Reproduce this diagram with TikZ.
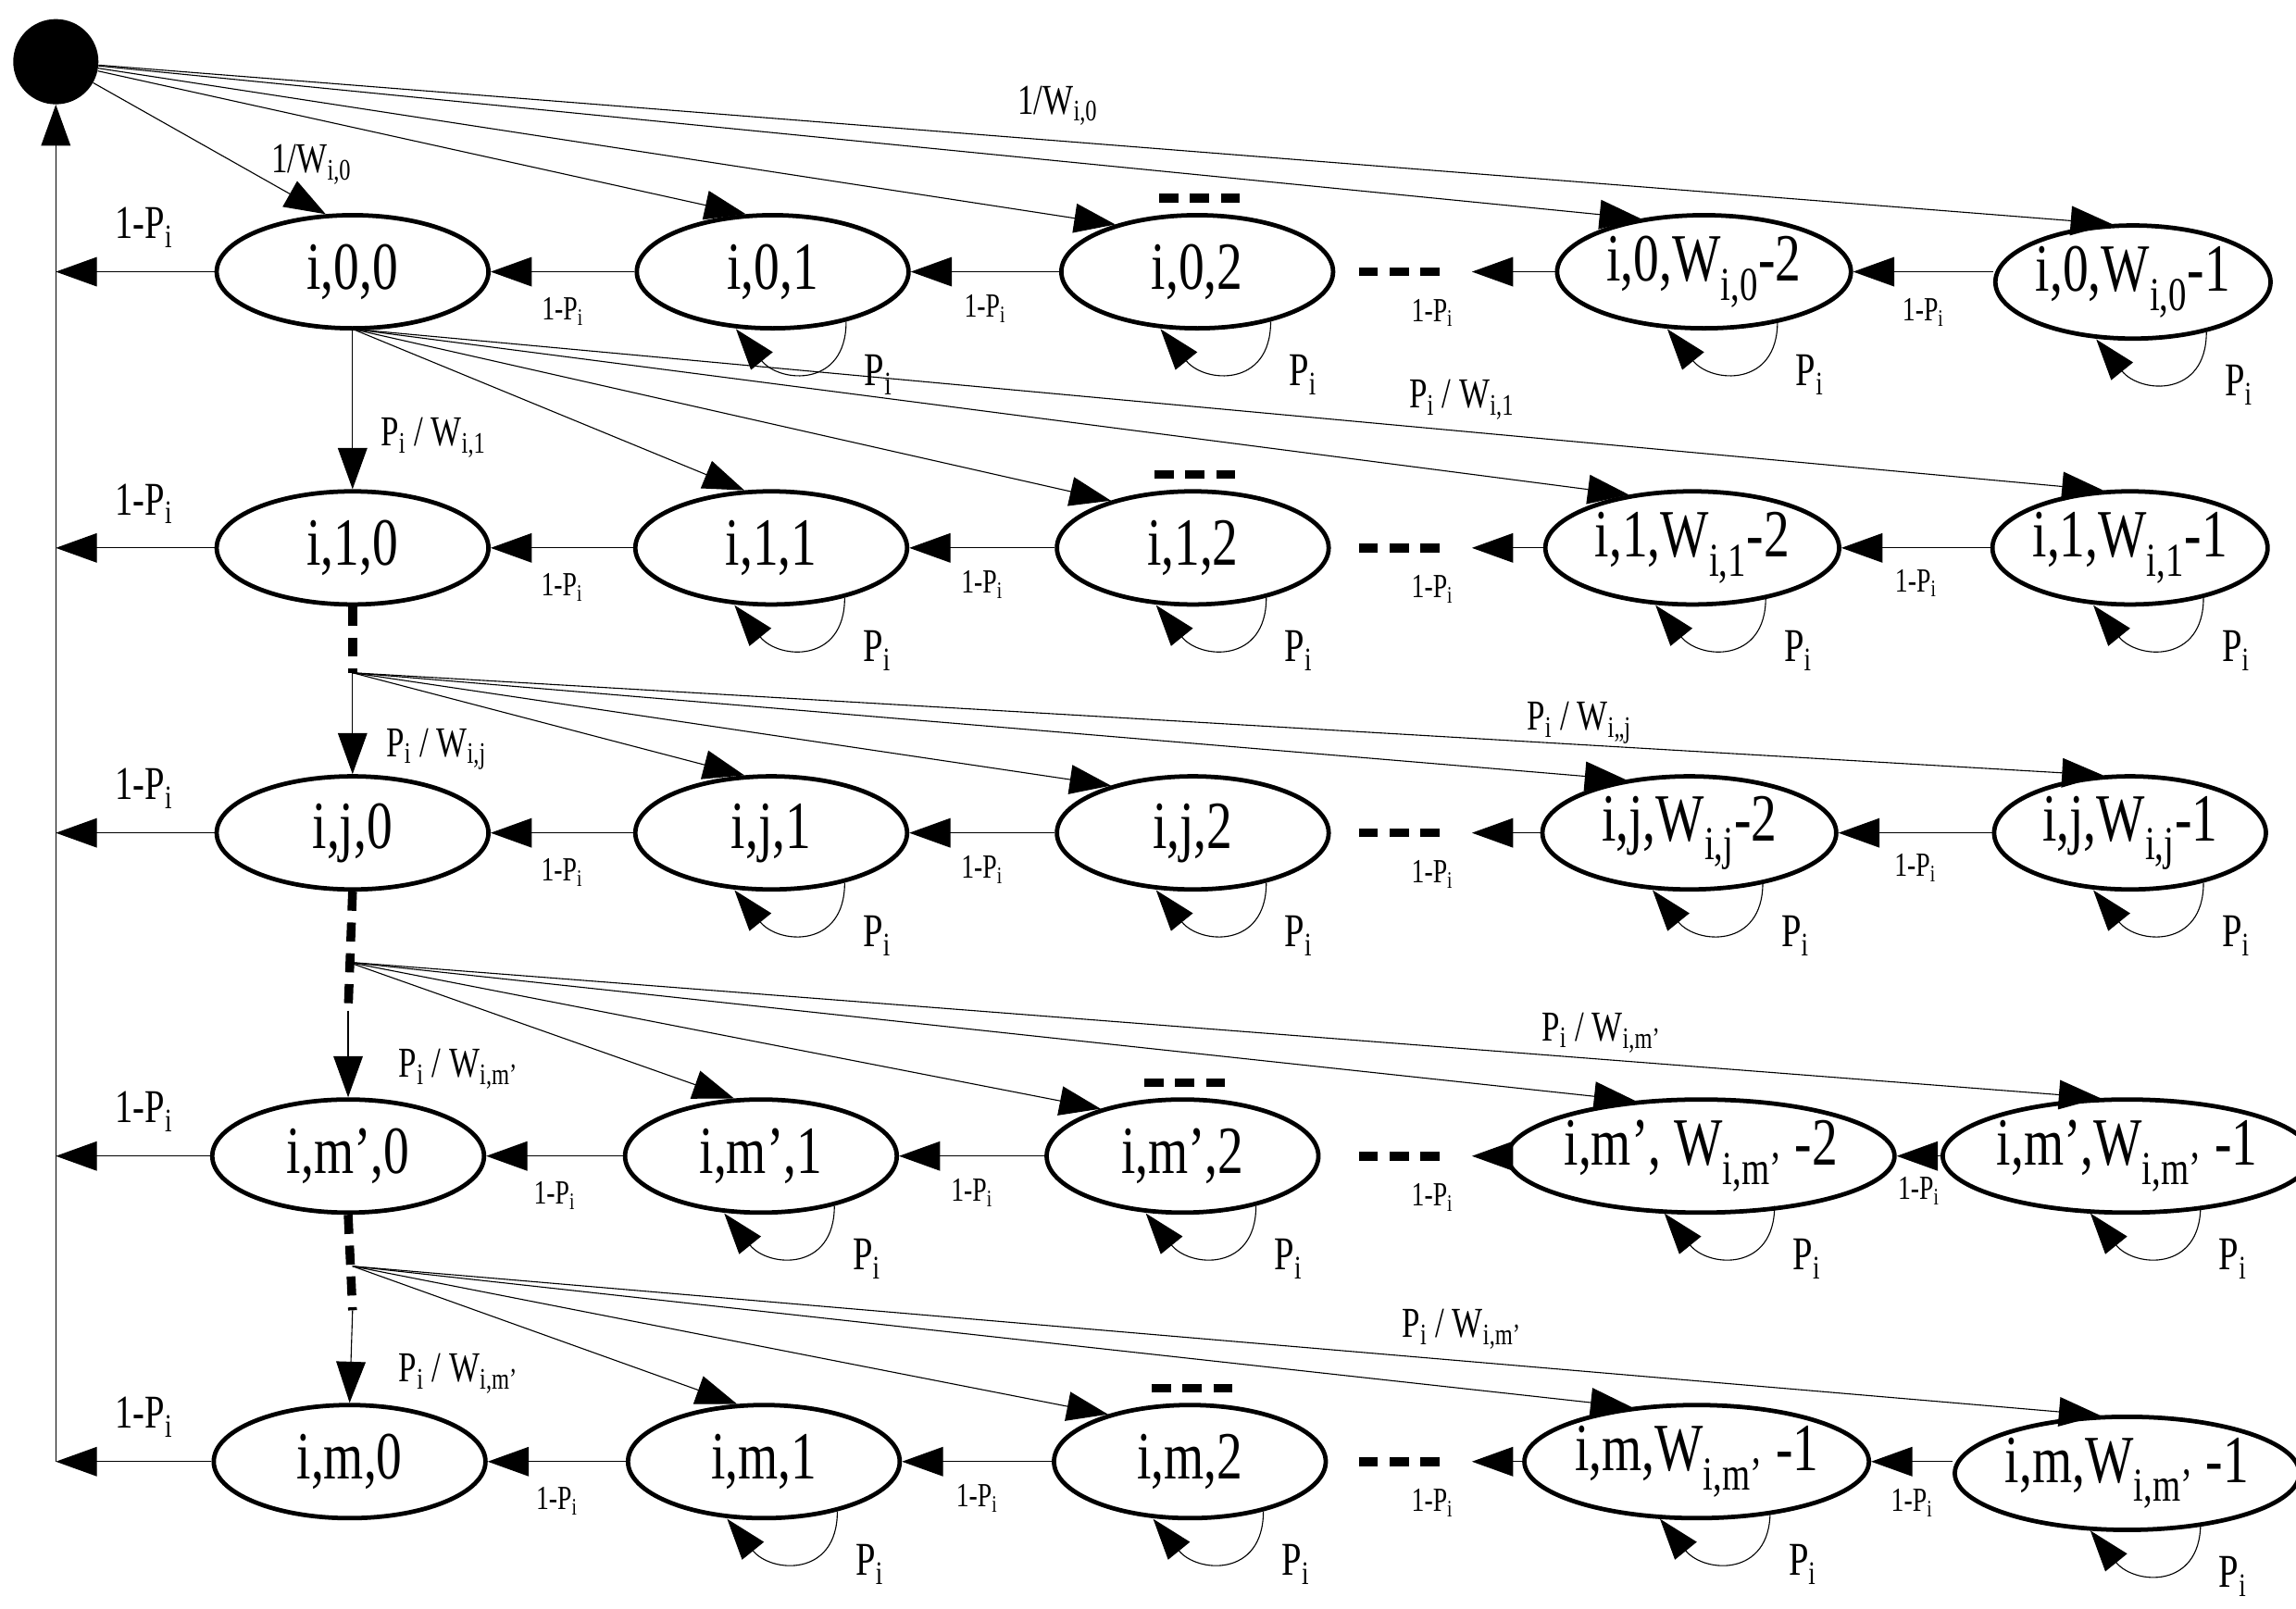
\documentclass[tikz,border=0pt]{standalone}
\usepackage{fontspec}
\setmainfont{Liberation Serif}[FakeStretch=0.76]
\usetikzlibrary{arrows.meta,calc,shapes.geometric}
\begin{document}
\begin{tikzpicture}[x=1pt,y=-1pt,
  st/.style={ellipse,draw,line width=3pt,minimum width=185pt,minimum height=77pt,inner sep=0pt,font=\fontsize{46}{46}\selectfont},
  wd/.style={st,minimum width=200pt},
  arr/.style={line width=0.7pt,-{Triangle[length=28pt,width=20pt]}},
  loop/.style={line width=0.7pt,-{Triangle[length=28pt,width=19pt]}},
  dots/.style={line width=6pt,dash pattern=on 13pt off 8pt},
  big/.style={font=\fontsize{32}{32}\selectfont},
  sm/.style={font=\fontsize{23}{23}\selectfont},
  lab/.style={font=\fontsize{32}{32}\selectfont}]
\useasboundingbox (0,0) rectangle (1563,1095);
\node[circle,fill=black,minimum size=58pt,inner sep=0pt] (S) at (38,42) {};
% rows
\node[st] (n00) at (240,185) {i,0,0};
\node[st] (n01) at (526,185) {i,0,1};
\node[st] (n02) at (815,185) {i,0,2};
\node[wd] (n03) at (1160,185) {i,0,W\textsubscript{i,0}-2};
\node[st] (n04) at (1452,192) {i,0,W\textsubscript{i,0}-1};
\node[st] (n10) at (240,373) {i,1,0};
\node[st] (n11) at (525,373) {i,1,1};
\node[st] (n12) at (812,373) {i,1,2};
\node[wd] (n13) at (1152,373) {i,1,W\textsubscript{i,1}-2};
\node[st] (n14) at (1450,373) {i,1,W\textsubscript{i,1}-1};
\node[st] (n20) at (240,567) {i,j,0};
\node[st] (n21) at (525,567) {i,j,1};
\node[st] (n22) at (812,567) {i,j,2};
\node[wd] (n23) at (1150,567) {i,j,W\textsubscript{i,j}-2};
\node[st] (n24) at (1450,567) {i,j,W\textsubscript{i,j}-1};
\node[st] (n30) at (237,787) {i,m’,0};
\node[st] (n31) at (518,787) {i,m’,1};
\node[st] (n32) at (805,787) {i,m’,2};
\node[wd] (n33) at (1158,787) {i,m’, W\textsubscript{i,m’} -2};
\node[st,minimum width=190pt] (n34) at (1448,787) {i,m’,W\textsubscript{i,m’} -1};
\node[st] (n40) at (238,995) {i,m,0};
\node[st] (n41) at (520,995) {i,m,1};
\node[st] (n42) at (810,995) {i,m,2};
\node[wd] (n43) at (1155,995) {i,m,W\textsubscript{i,m’} -1};
\node[st,minimum width=190pt] (n44) at (1448,1003) {i,m,W\textsubscript{i,m’} -1};
% left column
\coordinate (B) at (38,995);
\draw[arr] (B) -- (S);
\foreach \r/\y in {0/185,1/373,2/567,3/787,4/995}{
  \coordinate (L\r) at (38,\y);
  \coordinate (D\r) at (1002,\y);
  \draw[arr] (n\r0) -- (L\r);
  \node[big] at (98,\y-30) {1-P\textsubscript{i}};
  \draw[arr] (n\r1) -- (n\r0);
  \draw[arr] (n\r2) -- (n\r1);
  \draw[arr] (n\r4.west|-n\r3) -- (n\r3);
  \draw[arr] (n\r3) -- (D\r);
  \draw[dots] (925,\y) -- (985,\y);
  \node[sm] at ($(n\r0)!0.5!(n\r1)+(0,27)$) {1-P\textsubscript{i}};
  \node[sm] at ($(n\r1)!0.5!(n\r2)+(0,25)$) {1-P\textsubscript{i}};
  \node[sm] at (975,\y+28) {1-P\textsubscript{i}};
  \node[sm] at ($(n\r3.east)!0.5!(n\r4.west)+(0,24)$) {1-P\textsubscript{i}};
  \foreach \c in {1,2,3,4}{
    \draw[loop] ($(n\r\c)+(50,34)$) .. controls +(0,45) and +(30,37) .. ($(n\r\c)+(-25,39)$);
    \node[lab] at ($(n\r\c)+(72,70)$) {P\textsubscript{i}};
  }
}
% "..." above column 2
\foreach \n in {n02,n12,n32,n42}{
  \draw[dots] ($(\n)+(-26,-50)$) -- ($(\n)+(30,-50)$);
}
% fans
\draw[arr] (S) -- (n00.115);
\foreach \c/\a in {1/115,2/150,3/140,4/110}{ \draw[arr] (S) -- (n0\c.\a); }
\coordinate (s1) at (240,224);
\coordinate (s2) at (240,458);
\coordinate (s3) at (237,655);
\coordinate (t3) at (237,688);
\coordinate (s4) at (240,862);
\coordinate (t4) at (240,892);
\draw[dots] (n10.south) -- (s2);
\draw[dots] (n20.south) -- (t3);
\draw[dots] (n30.south) -- (t4);
\draw[arr] (s1) -- (n10.north);
\draw[arr] (s2) -- (n20.north);
\draw[arr] (t3) -- (n30.north);
\draw[arr] (t4) -- (n40.north);
\foreach \r/\s in {1/s1,2/s2,3/s3,4/s4}{
  \foreach \c/\a in {1/115,2/150,3/140,4/115}{ \draw[arr] (\s) -- (n\r\c.\a); }
}
% fan labels
\tikzset{fl/.style={font=\fontsize{29}{29}\selectfont}}
\node[fl] at (212,112) {1/W\textsubscript{i,0}};
\node[fl] at (720,72) {1/W\textsubscript{i,0}};
\node[fl] at (295,298) {P\textsubscript{i} / W\textsubscript{i,1}};
\node[fl] at (995,272) {P\textsubscript{i} / W\textsubscript{i,1}};
\node[fl] at (297,510) {P\textsubscript{i} / W\textsubscript{i,j}};
\node[fl] at (1075,492) {P\textsubscript{i} / W\textsubscript{i,,j}};
\node[fl] at (312,728) {P\textsubscript{i} / W\textsubscript{i,m’}};
\node[fl] at (1090,703) {P\textsubscript{i} / W\textsubscript{i,m’}};
\node[fl] at (312,935) {P\textsubscript{i} / W\textsubscript{i,m’}};
\node[fl] at (995,905) {P\textsubscript{i} / W\textsubscript{i,m’}};
\end{tikzpicture}
\end{document}
